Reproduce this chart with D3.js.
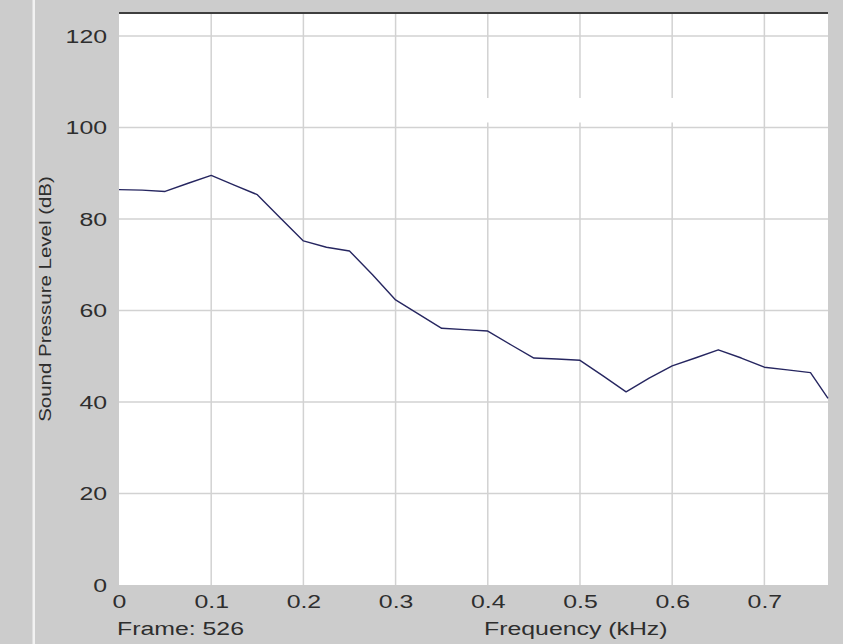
<!DOCTYPE html>
<html>
<head>
<meta charset="utf-8">
<script src="https://cdn.jsdelivr.net/npm/d3@7"></script>
<style>
  html, body { margin: 0; padding: 0; background: #cccccc; }
  svg { display: block; }
  text { font-family: "Liberation Sans", Arial, sans-serif; fill: #2e2e2e; }
</style>
</head>
<body>
<svg id="chart" width="843" height="644"></svg>
<script>
// Spectrum of one frame: frequency (kHz) vs sound pressure level (dB)
const frequencies = [0, 0.025, 0.05, 0.075, 0.1, 0.125, 0.15, 0.175, 0.2, 0.225, 0.25, 0.275,
  0.3, 0.325, 0.35, 0.375, 0.4, 0.425, 0.45, 0.475, 0.5, 0.525, 0.55, 0.575, 0.6, 0.625,
  0.65, 0.675, 0.7, 0.725, 0.75, 0.769];
const levels = [86.4, 86.3, 86.0, 87.8, 89.5, 87.4, 85.3, 80.2, 75.2, 73.8, 73.0, 67.8,
  62.3, 59.2, 56.1, 55.8, 55.5, 52.5, 49.6, 49.4, 49.1, 45.7, 42.2, 45.2, 47.9, 49.6,
  51.4, 49.6, 47.6, 47.0, 46.4, 40.8];
const xTicks = [0, 0.1, 0.2, 0.3, 0.4, 0.5, 0.6, 0.7];
const xTickLabels = ["0", "0.1", "0.2", "0.3", "0.4", "0.5", "0.6", "0.7"];
const yTicks = [0, 20, 40, 60, 80, 100, 120];
const yTickLabels = ["0", "20", "40", "60", "80", "100", "120"];
const frameLabel = "Frame: 526";
const xTitle = "Frequency (kHz)";
const yTitle = "Sound Pressure Level (dB)";

const svg = d3.select("#chart");
const plot = { left: 119, right: 828, top: 13, bottom: 585 };
const SX = 1.38;        // wide lettering of the tick and caption text
const FS = 18;

const x = d3.scaleLinear().domain([0, 0.769]).range([plot.left, plot.right]);
const y = d3.scaleLinear().domain([0, 125]).range([plot.bottom, plot.top]);

// thin light separator on the far left of the panel
svg.append("rect").attr("x", 32.5).attr("y", 0).attr("width", 2.5).attr("height", 644)
  .attr("fill", "#f2f2f2");

// plotting area
svg.append("rect")
  .attr("x", plot.left).attr("y", plot.top)
  .attr("width", plot.right - plot.left).attr("height", plot.bottom - plot.top)
  .attr("fill", "#ffffff");

// grid
const grid = svg.append("g").attr("stroke", "#d2d2d2").attr("stroke-width", 1.5);
grid.selectAll("line.h").data(yTicks.filter(d => d > 0)).join("line")
  .attr("class", "h")
  .attr("x1", plot.left).attr("x2", plot.right)
  .attr("y1", d => y(d)).attr("y2", d => y(d));
grid.selectAll("line.v").data(xTicks.filter(d => d > 0)).join("line")
  .attr("class", "v")
  .attr("x1", d => x(d)).attr("x2", d => x(d))
  .attr("y1", plot.top).attr("y2", plot.bottom);

// empty legend box sitting over the grid
svg.append("rect")
  .attr("x", x(0.396)).attr("y", 98)
  .attr("width", x(0.63) - x(0.396)).attr("height", 24.5)
  .attr("fill", "#ffffff");

// top frame edge
svg.append("line")
  .attr("x1", plot.left).attr("x2", plot.right)
  .attr("y1", plot.top).attr("y2", plot.top)
  .attr("stroke", "#3e3e3e").attr("stroke-width", 2);

// spectrum line
const pts = frequencies.map((f, i) => [f, levels[i]]);
svg.append("path")
  .datum(pts)
  .attr("fill", "none")
  .attr("stroke", "#262660")
  .attr("stroke-width", 1.4)
  .attr("stroke-linejoin", "round")
  .attr("d", d3.line().x(d => x(d[0])).y(d => y(d[1])));

// y axis
const yAxis = svg.append("g")
  .attr("transform", `translate(${plot.left},0)`)
  .call(d3.axisLeft(y).tickValues(yTicks)
    .tickFormat((d, i) => yTickLabels[i]).tickSize(0).tickPadding(0));
yAxis.select(".domain").remove();
yAxis.selectAll("text")
  .attr("font-size", FS).attr("font-family", null).attr("fill", null)
  .attr("x", -12 / SX).attr("dy", "0.36em")
  .attr("transform", `scale(${SX},1)`);
yAxis.attr("font-family", null).attr("font-size", null);

// x axis
const xAxis = svg.append("g")
  .attr("transform", `translate(0,${plot.bottom})`)
  .call(d3.axisBottom(x).tickValues(xTicks)
    .tickFormat((d, i) => xTickLabels[i]).tickSize(0).tickPadding(0));
xAxis.select(".domain").remove();
xAxis.selectAll("text")
  .attr("font-size", FS).attr("fill", null)
  .attr("y", 23).attr("dy", 0)
  .attr("transform", `scale(${SX},1)`);
xAxis.attr("font-family", null).attr("font-size", null);
// keep each label centred on its gridline after the horizontal stretch
xAxis.selectAll(".tick text").attr("x", 0);

// captions
svg.append("g").attr("transform", "translate(117,635)")
  .append("text").attr("font-size", FS).attr("transform", `scale(${SX},1)`)
  .text(frameLabel);
svg.append("g").attr("transform", "translate(484,635)")
  .append("text").attr("font-size", FS).attr("transform", `scale(${SX},1)`)
  .text(xTitle);
svg.append("g").attr("transform", `translate(51,${(plot.top + plot.bottom) / 2}) rotate(-90)`)
  .append("text").attr("font-size", 16).attr("text-anchor", "middle")
  .attr("transform", "scale(1.28,1)")
  .text(yTitle);
</script>
</body>
</html>
